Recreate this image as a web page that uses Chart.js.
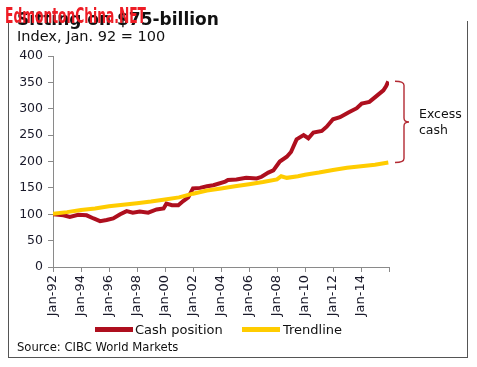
<!DOCTYPE html>
<html>
<head>
<meta charset="utf-8">
<script src="https://cdn.jsdelivr.net/npm/chart.js@4/dist/chart.umd.min.js"></script>
<style>
  html, body { margin: 0; padding: 0; background: #fff; }
  #wrap { position: relative; width: 477px; height: 367px; overflow: hidden; font-family: "DejaVu Sans", Verdana, sans-serif; }
  #c { position: absolute; left: 0; top: 0; }
  .t { position: absolute; white-space: nowrap; line-height: 1; color: #111; }
  #frame { position: absolute; left: 8px; top: 21px; width: 458px; height: 336px; border: 1px solid #555; border-top: none; }
  #title { left: 17px; top: 11px; font-size: 17px; font-weight: bold; }
  #mark { left: 5px; top: 6px; font-size: 21px; font-weight: bold; color: #ee1c25; font-family: "Liberation Sans Narrow", "DejaVu Sans Condensed", "Liberation Sans", sans-serif; transform-origin: 0 0; }
  #sub { left: 17px; top: 28.7px; font-size: 14.5px; }
  #src { left: 17px; top: 342px; font-size: 11.6px; }
  #ann { left: 419px; top: 106px; font-size: 12.5px; line-height: 16px; }
  .sw { position: absolute; height: 5px; width: 38px; }
  .lt { position: absolute; font-size: 13px; line-height: 1; color: #111; white-space: nowrap; }
</style>
</head>
<body>
<div id="wrap">
  <div id="frame"></div>
  <canvas id="c" width="477" height="367"></canvas>
  <div class="t" id="title">Sitting on $75-billion</div>
  <div class="t" id="mark">EdmontonChina.NET</div>
  <div class="t" id="sub">Index, Jan. 92 = 100</div>
  <div id="legend"></div>
  <div class="t" id="src">Source: CIBC World Markets</div>
  <div class="t" id="ann">Excess<br>cash</div>
</div>
<script>
// ---- Data ----
const seriesNames = ["Cash position", "Trendline"];

const cashYears = [1992.0, 1992.4, 1992.75, 1993.2, 1993.8, 1994.4, 1994.9, 1995.36, 1995.83, 1996.3, 1996.8,
  1997.26, 1997.7, 1998.2, 1998.8, 1999.4, 1999.9, 2000.1, 2000.5, 2000.95, 2001.3, 2001.66, 2002.0, 2002.5,
  2003.0, 2003.45, 2004.3, 2004.5, 2005.1, 2005.8, 2006.55, 2006.9, 2007.38, 2007.74, 2008.2, 2008.7, 2009.0,
  2009.4, 2009.9, 2010.24, 2010.6, 2011.2, 2011.55, 2012.0, 2012.5, 2013.1, 2013.7, 2014.05, 2014.6, 2015.1,
  2015.6, 2015.8, 2015.95];
const cashValues = [100, 99, 98, 95, 99, 98, 92, 87, 89, 92, 100,
  106, 103, 105, 103, 109, 111, 120, 117, 117, 125, 132, 149, 150,
  153, 155, 162, 165, 166, 169, 168, 171, 179, 183, 200, 209, 218,
  242, 250, 244, 255, 258, 266, 280, 284, 293, 301, 310, 313, 324,
  335, 343, 352];

const trendYears = [1992, 1993, 1994, 1995, 1996, 1997, 1998, 1999, 2000, 2001, 2002, 2003, 2004, 2005,
  2006, 2007, 2008, 2008.3, 2008.7, 2009.5, 2010, 2011, 2012, 2013, 2014, 2015, 2015.95];
const trendValues = [101, 104, 108, 111, 115, 118, 121, 124, 128, 132, 139, 145, 149, 153,
  157, 161, 166, 172, 169, 172, 175, 179, 184, 188, 191, 194, 198];

const xTickYears = [1992, 1994, 1996, 1998, 2000, 2002, 2004, 2006, 2008, 2010, 2012, 2014, 2016];
const xTickLabels = ["Jan-92", "Jan-94", "Jan-96", "Jan-98", "Jan-00", "Jan-02", "Jan-04", "Jan-06",
  "Jan-08", "Jan-10", "Jan-12", "Jan-14", ""];
const yTicks = [0, 50, 100, 150, 200, 250, 300, 350, 400];

const RED = '#ae0f1e';
const YEL = '#ffcc00';
const seriesColors = [RED, YEL];

// fit the watermark width
(function () {
  const m = document.getElementById('mark');
  const w = m.getBoundingClientRect().width;
  m.style.transform = 'scaleX(' + (141 / w) + ')';
})();

// legend (HTML, from the series names/colours)
(function () {
  const lg = document.getElementById('legend');
  const swX = [95, 242], txX = [135, 283];
  seriesNames.forEach((n, i) => {
    const s = document.createElement('div');
    s.className = 'sw';
    s.style.left = swX[i] + 'px'; s.style.top = '327px'; s.style.background = seriesColors[i];
    lg.appendChild(s);
    const t = document.createElement('div');
    t.className = 'lt';
    t.style.left = txX[i] + 'px'; t.style.top = '322.5px';
    t.textContent = n;
    lg.appendChild(t);
  });
})();

const toXY = (xs, ys) => xs.map((x, i) => ({ x: x, y: ys[i] }));

const bracketPlugin = {
  id: 'bracket',
  afterDatasetsDraw(chart) {
    const ctx = chart.ctx;
    const ys = chart.scales.y;
    const top = ys.getPixelForValue(cashValues[cashValues.length - 1]);
    const bot = ys.getPixelForValue(trendValues[trendValues.length - 1]);
    const mid = (top + bot) / 2;
    const x0 = chart.chartArea.right + 6, xv = x0 + 9, xn = xv + 5, r = 4;
    ctx.save();
    ctx.strokeStyle = '#b32a33';
    ctx.lineWidth = 1.4;
    ctx.beginPath();
    ctx.moveTo(x0, top);
    ctx.quadraticCurveTo(xv, top, xv, top + r);
    ctx.lineTo(xv, mid - r);
    ctx.quadraticCurveTo(xv, mid, xn, mid);
    ctx.quadraticCurveTo(xv, mid, xv, mid + r);
    ctx.lineTo(xv, bot - r);
    ctx.quadraticCurveTo(xv, bot, x0, bot);
    ctx.stroke();
    ctx.restore();
  }
};

new Chart(document.getElementById('c'), {
  type: 'line',
  data: {
    datasets: [
      { label: seriesNames[0], data: toXY(cashYears, cashValues), borderColor: RED, backgroundColor: RED,
        borderWidth: 4, pointRadius: 0, tension: 0, order: 1 },
      { label: seriesNames[1], data: toXY(trendYears, trendValues), borderColor: YEL, backgroundColor: YEL,
        borderWidth: 4, pointRadius: 0, tension: 0, order: 0 }
    ]
  },
  options: {
    responsive: false,
    animation: false,
    devicePixelRatio: 1,
    layout: { padding: { left: 0, right: 88, top: 56, bottom: 0 } },
    plugins: {
      title: { display: false },
      tooltip: { enabled: false },
      legend: { display: false }
    },
    scales: {
      x: {
        type: 'linear', min: xTickYears[0], max: xTickYears[xTickYears.length - 1],
        afterFit(s) { s.height = 100; },
        afterBuildTicks(s) { s.ticks = xTickYears.map(v => ({ value: v })); },
        ticks: {
          autoSkip: false, minRotation: 90, maxRotation: 90, padding: 3, color: '#1a1a2a',
          font: { family: '"DejaVu Sans", Verdana, sans-serif', size: 13 },
          callback: (v) => { const i = xTickYears.indexOf(v); return i >= 0 ? xTickLabels[i] : ''; }
        },
        grid: { drawOnChartArea: false, drawTicks: true, tickLength: 5, color: '#8a8a8a' },
        border: { color: '#8a8a8a', width: 1 }
      },
      y: {
        min: yTicks[0], max: yTicks[yTicks.length - 1],
        afterFit(s) { s.width = 53; },
        afterBuildTicks(s) { s.ticks = yTicks.map(v => ({ value: v })); },
        ticks: {
          padding: 5, color: '#1a1a2a',
          font: { family: '"DejaVu Sans", Verdana, sans-serif', size: 12.5 }
        },
        grid: { drawOnChartArea: false, drawTicks: true, tickLength: 5, color: '#8a8a8a' },
        border: { color: '#8a8a8a', width: 1 }
      }
    }
  },
  plugins: [bracketPlugin]
});
</script>
</body>
</html>
